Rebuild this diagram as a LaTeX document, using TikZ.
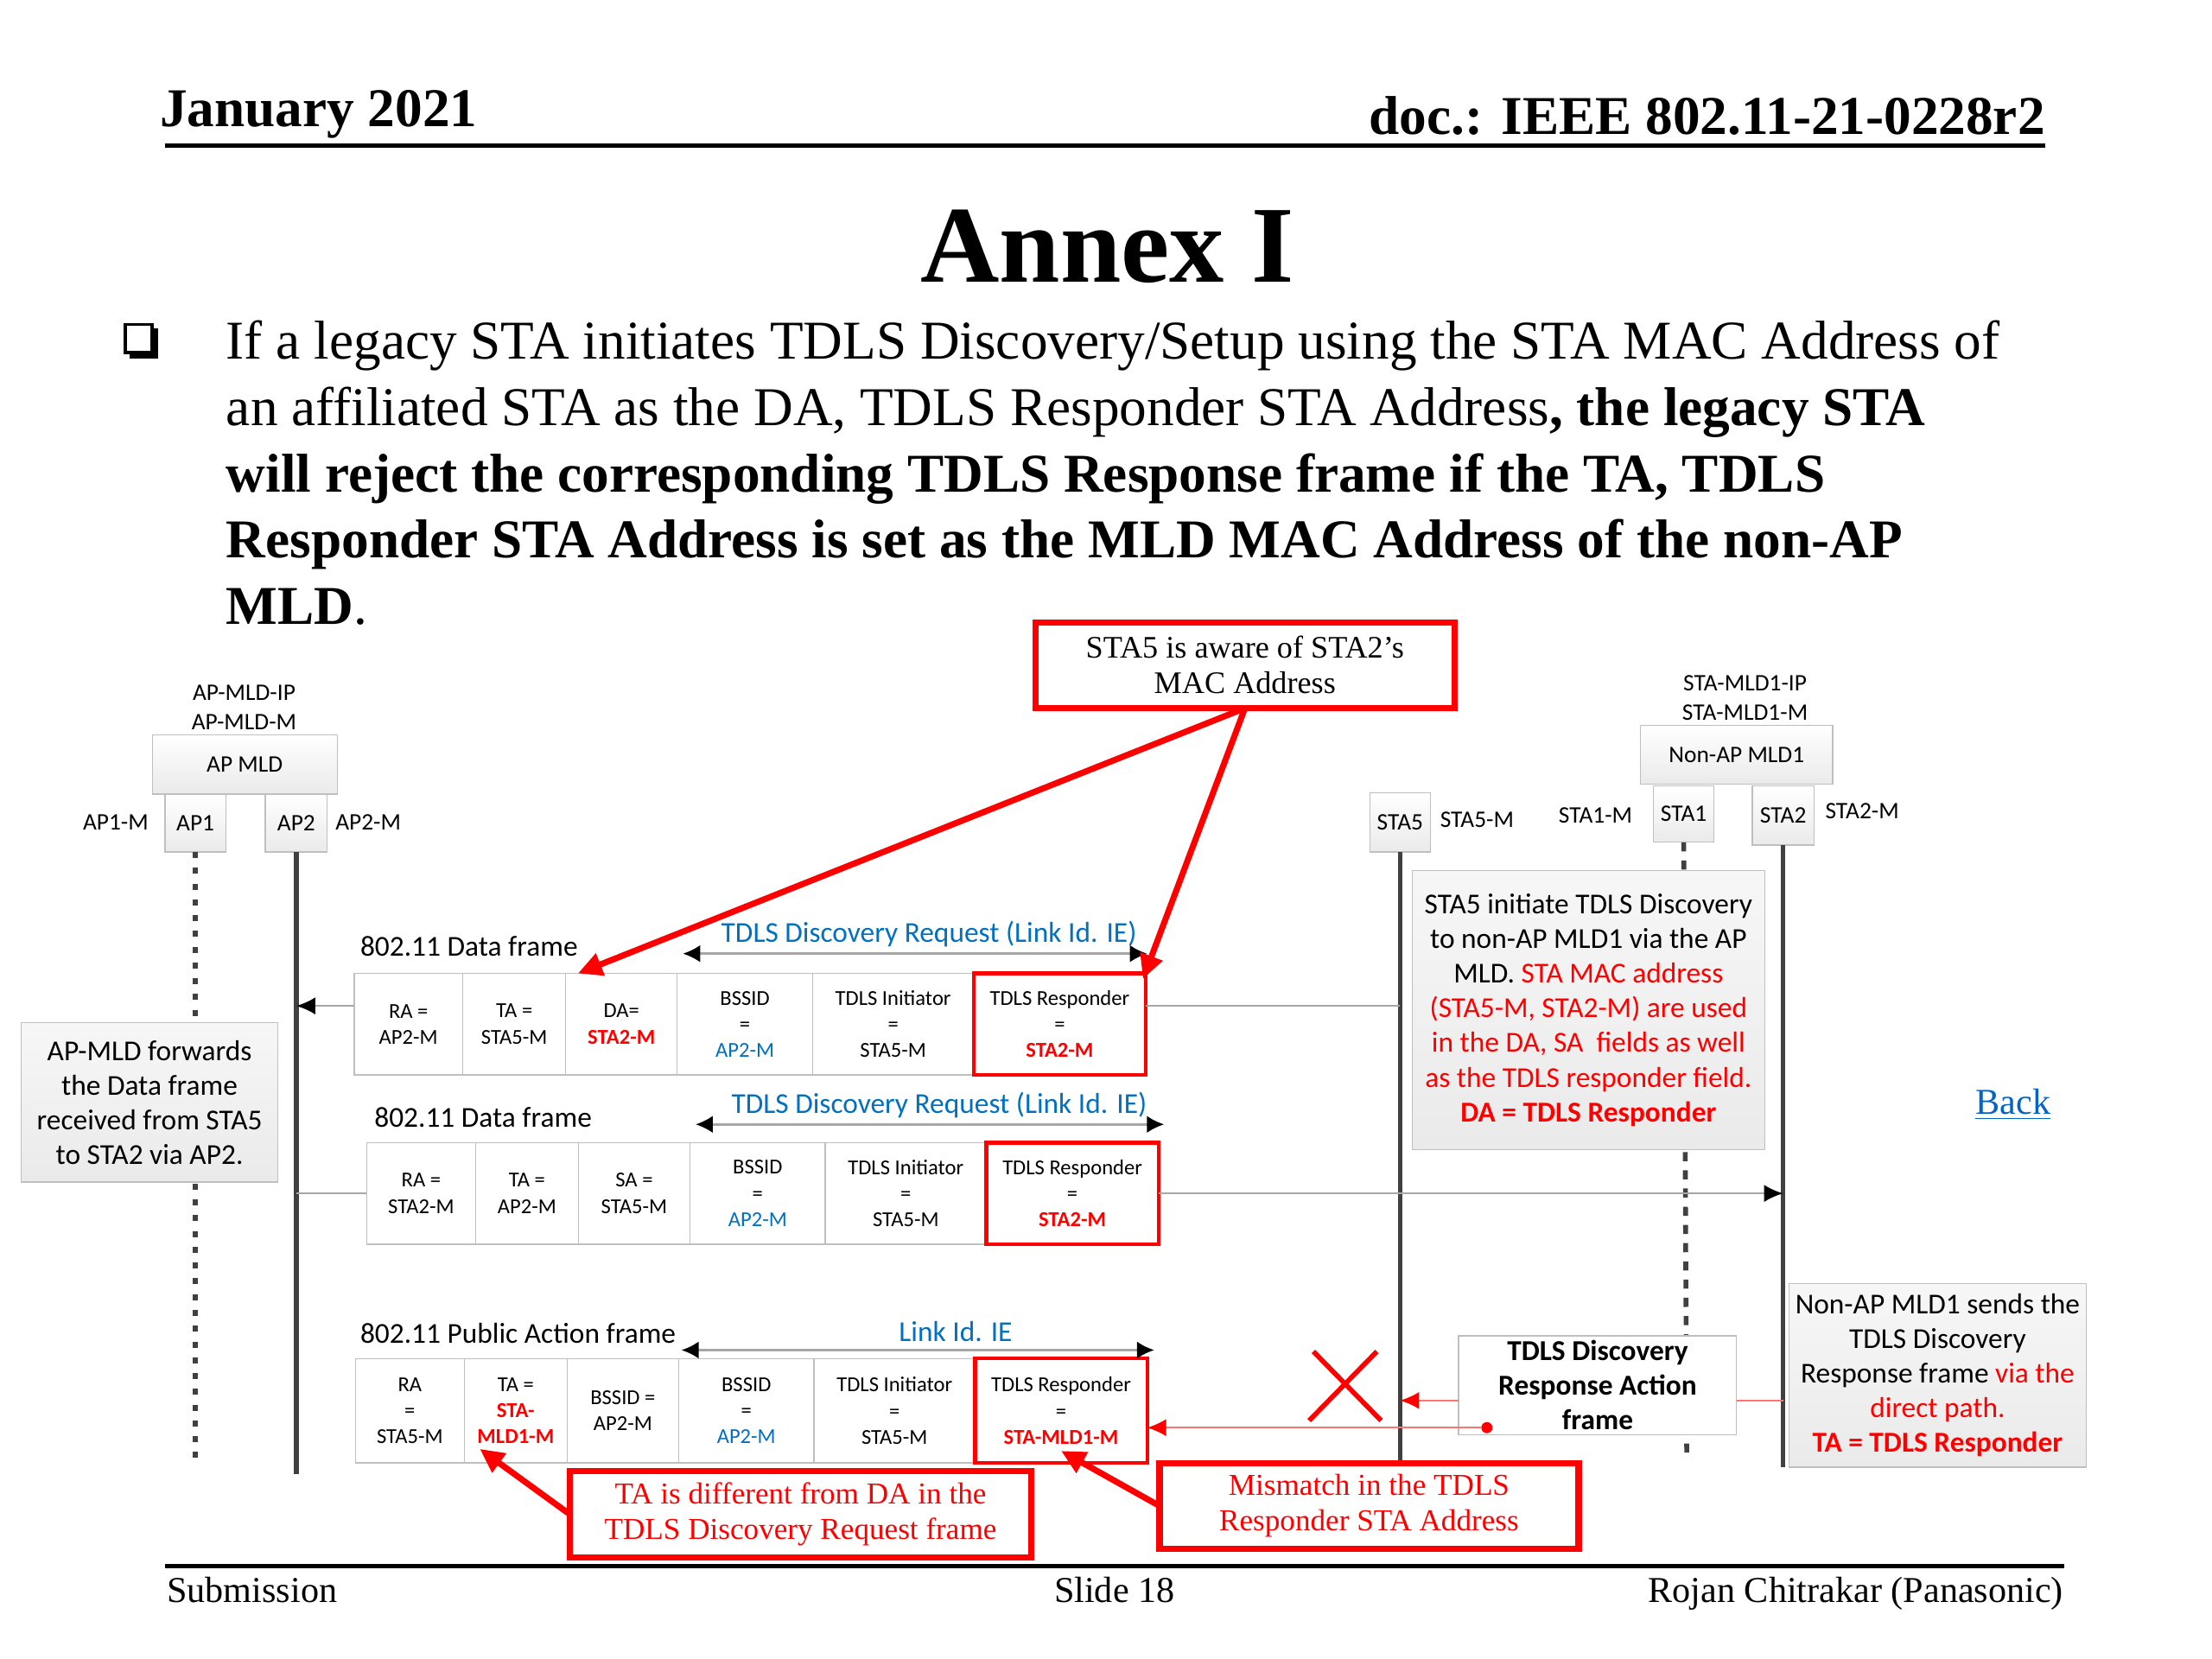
\documentclass[tikz,border=0pt]{standalone}
\usepackage{fontspec}
\setmainfont{Liberation Serif}
\newfontfamily\calibri{Carlito}
\usetikzlibrary{arrows.meta, positioning}
\definecolor{rojoAviso}{HTML}{FF0000}
\definecolor{azulCampo}{HTML}{0070C0}
\definecolor{azulEnlace}{HTML}{0563C1}
\definecolor{grisBorde}{HTML}{BFBFBF}
\definecolor{grisCaja}{HTML}{EAEAEA}
\definecolor{grisLinea}{HTML}{404040}
\definecolor{grisMsg}{HTML}{A6A6A6}

\begin{document}
\begin{tikzpicture}[x=0.016327cm, y=-0.016327cm, >=Latex,
        font=\calibri\fontsize{9.5}{11.4}\selectfont,
        lifebox/.style={draw=grisBorde, top color=white, bottom color=grisCaja,
            font=\calibri\fontsize{7.8}{9.4}\selectfont, inner sep=1pt, outer sep=0pt},
        notebox/.style={draw=grisBorde, top color=grisCaja!40, bottom color=grisCaja,
            align=center, inner sep=2pt, outer sep=0pt},
        cell/.style={draw=grisBorde, fill=white, font=\calibri\fontsize{7}{8.6}\selectfont,
            align=center, inner sep=1pt, outer sep=0pt, minimum height=33.4pt},
        hotcell/.style={cell, draw=rojoAviso, line width=1.2pt},
        redbox/.style={draw=rojoAviso, line width=2pt, fill=white, text=rojoAviso,
            font=\rmfamily\fontsize{10}{11.6}\selectfont, align=center,
            outer sep=0pt, minimum height=28.3pt},
        tag/.style={font=\calibri\fontsize{7.8}{9.4}\selectfont, inner sep=0pt},
        lifeline/.style={grisLinea, line width=1.6pt},
        msg/.style={grisMsg, line width=0.7pt},
        tipmsg/.style={msg, -{Latex[color=black, length=2.2mm, width=2mm]}},
        spanarrow/.style={{Latex[color=black, length=2mm, width=2mm]}-{Latex[color=black, length=2mm, width=2mm]},
            grisMsg, line width=0.8pt},
        pointer/.style={-{Triangle[length=2.8mm, width=2.6mm]}, rojoAviso, line width=2pt},
        redmsg/.style={rojoAviso!55, line width=0.5pt,
            -{Latex[color=rojoAviso, length=2.2mm, width=2mm]}}]
    \useasboundingbox (0,0) rectangle (1568,1176);

    % cabecera
    \node[anchor=base west, inner sep=0pt, font=\rmfamily\bfseries\fontsize{18}{21.6}\selectfont]
        (fecha) at (113,90) {January 2021};
    \node[anchor=base east, inner sep=0pt, font=\rmfamily\bfseries\fontsize{18}{21.6}\selectfont]
        (docid) at (1450,95) {doc.: IEEE 802.11-21-0228r2};
    \draw[line width=1.4pt] (117,103) -- (1450,103);
    \node[anchor=base, inner sep=0pt, font=\rmfamily\bfseries\fontsize{36}{40}\selectfont]
        (titulo) at (785,200) {Annex I};

    % texto
    \draw[line width=1.1pt] (89,230) rectangle (108,250);
    \fill (92,250) rectangle (112,254);
    \fill (108,233) rectangle (112,254);
    \node[anchor=north west, align=left, inner sep=0pt, font=\rmfamily\fontsize{18}{21.8}\selectfont]
        (cuerpo) at (160,227) {If a legacy STA initiates TDLS Discovery/Setup using the STA MAC Address of\\
        an affiliated STA as the DA, TDLS Responder STA Address\textbf{, the legacy STA}\\
        \textbf{will reject the corresponding TDLS Response frame if the TA, TDLS}\\
        \textbf{Responder STA Address is set as the MLD MAC Address of the non-AP}\\
        \textbf{MLD}.};

    % entidades
    \node[lifebox, minimum width=60.9pt, minimum height=19.5pt] (apmld) at (173.5,542) {AP MLD};
    \node[lifebox, minimum width=20pt, minimum height=19pt, anchor=north] (ap1) at (138.5,563) {AP1};
    \node[lifebox, minimum width=20.4pt, minimum height=19pt, anchor=north] (ap2) at (210,563) {AP2};
    \node[tag] (apip) at (173,491) {AP-MLD-IP};
    \node[tag] (apm) at (173,512) {AP-MLD-M};
    \node[tag] (ap1m) at (82,583) {AP1-M};
    \node[tag] (ap2m) at (261,583) {AP2-M};

    \node[lifebox, minimum width=63.2pt, minimum height=19.5pt] (nonap) at (1231,535) {Non-AP MLD1};
    \node[lifebox, minimum width=20pt, minimum height=18.6pt, anchor=north] (sta1) at (1193.5,557) {STA1};
    \node[lifebox, minimum width=20.4pt, minimum height=19.5pt, anchor=north] (sta2) at (1264,557) {STA2};
    \node[lifebox, minimum width=20pt, minimum height=19.5pt] (sta5) at (992.5,583) {STA5};
    \node[tag] (stip) at (1237,484) {STA-MLD1-IP};
    \node[tag] (stm) at (1237,505) {STA-MLD1-M};
    \node[tag] (sta5m) at (1047,581) {STA5-M};
    \node[tag] (sta1m) at (1131,578) {STA1-M};
    \node[tag] (sta2m) at (1320,575) {STA2-M};

    % lineas de vida
    \draw[lifeline, dash pattern=on 2pt off 3.2pt] (ap1.south) -- (ap1.south |- 0,1040);
    \draw[lifeline] (ap2.south) -- (ap2.south |- 0,1045);
    \draw[lifeline] (sta5.south) -- (sta5.south |- 0,1037);
    \draw[lifeline, dash pattern=on 3pt off 3pt] (sta1.south) -- ([xshift=1pt]sta1.south |- 0,1030);
    \draw[lifeline] (sta2.south) -- (sta2.south |- 0,1040);

    % notas
    \node[notebox, minimum width=84.5pt, minimum height=52.5pt] (fwdnote) at (106,781.5)
        {AP-MLD forwards\\the Data frame\\received from STA5\\to STA2 via AP2.};
    \node[notebox, minimum width=116.1pt, minimum height=92pt] (initnote) at (1126,716)
        {STA5 initiate TDLS Discovery\\to non-AP MLD1 via the AP\\MLD. {\color{rojoAviso}STA MAC address}\\
        {\color{rojoAviso}(STA5-M, STA2-M) are used}\\{\color{rojoAviso}in the DA, SA\ \ fields as well}\\
        {\color{rojoAviso}as the TDLS responder field.}\\{\color{rojoAviso}\bfseries DA = TDLS Responder}};
    \node[notebox, minimum width=98pt, minimum height=60.4pt] (sendnote) at (1373.5,975)
        {Non-AP MLD1 sends the\\TDLS Discovery\\Response frame {\color{rojoAviso}via the}\\
        {\color{rojoAviso}direct path.}\\{\color{rojoAviso}\bfseries TA = TDLS Responder}};
    \node[draw=grisBorde, fill=white, align=center, font=\calibri\bfseries\fontsize{9.5}{11.4}\selectfont,
        minimum width=91.5pt, minimum height=32.5pt, inner sep=1pt, outer sep=0pt] (respbox) at (1132.5,982)
        {TDLS Discovery\\Response Action\\frame};

    % trama 1
    \node[anchor=base west, inner sep=0pt] (lbl1) at (255,678) {802.11 Data frame};
    \node[cell, minimum width=35.8pt, anchor=north west] (ra1) at (251,690) {RA =\\AP2-M};
    \node[cell, minimum width=33.9pt, right=0pt of ra1] (ta1) {TA =\\STA5-M};
    \node[cell, minimum width=36.7pt, right=0pt of ta1] (da1) {DA=\\{\color{rojoAviso}\bfseries STA2-M}};
    \node[cell, minimum width=44.6pt, right=0pt of da1] (bssid1) {BSSID\\=\\{\color{azulCampo}AP2-M}};
    \node[cell, minimum width=53pt, right=0pt of bssid1] (ini1) {TDLS Initiator\\=\\STA5-M};
    \node[hotcell, minimum width=56.7pt, right=0pt of ini1] (resp1) {TDLS Responder\\=\\{\color{rojoAviso}\bfseries STA2-M}};
    \draw[spanarrow] ([shift={(4,-14)}]bssid1.north west) -- ([shift={(1,-14)}]resp1.north east)
        node[pos=0.53, above=-1.5pt, text=azulCampo] {TDLS Discovery Request (Link Id. IE)};

    % trama 2
    \node[anchor=base west, inner sep=0pt] (lbl2) at (265,799) {802.11 Data frame};
    \node[cell, minimum width=35.8pt, anchor=north west] (ra2) at (260,810) {RA =\\STA2-M};
    \node[cell, minimum width=33.9pt, right=0pt of ra2] (ta2) {TA =\\AP2-M};
    \node[cell, minimum width=36.7pt, right=0pt of ta2] (sa2) {SA =\\STA5-M};
    \node[cell, minimum width=44.6pt, right=0pt of sa2] (bssid2) {BSSID\\=\\{\color{azulCampo}AP2-M}};
    \node[cell, minimum width=53pt, right=0pt of bssid2] (ini2) {TDLS Initiator\\=\\STA5-M};
    \node[hotcell, minimum width=56.7pt, right=0pt of ini2] (resp2) {TDLS Responder\\=\\{\color{rojoAviso}\bfseries STA2-M}};
    \draw[spanarrow] ([shift={(4,-13)}]bssid2.north west) -- ([shift={(4,-13)}]resp2.north east)
        node[pos=0.52, above=-1.5pt, text=azulCampo] {TDLS Discovery Request (Link Id. IE)};

    % trama 3
    \node[anchor=base west, inner sep=0pt] (lbl3) at (255,952) {802.11 Public Action frame};
    \node[cell, minimum height=34.4pt, minimum width=35.8pt, anchor=north west] (ra3) at (252,963) {RA\\=\\STA5-M};
    \node[cell, minimum height=34.4pt, minimum width=33.9pt, right=0pt of ra3] (ta3)
        {TA =\\{\color{rojoAviso}\bfseries STA-}\\{\color{rojoAviso}\bfseries MLD1-M}};
    \node[cell, minimum height=34.4pt, minimum width=36.7pt, right=0pt of ta3] (bss3) {BSSID =\\AP2-M};
    \node[cell, minimum height=34.4pt, minimum width=44.6pt, right=0pt of bss3] (bssid3) {BSSID\\=\\{\color{azulCampo}AP2-M}};
    \node[cell, minimum height=34.4pt, minimum width=53pt, right=0pt of bssid3] (ini3) {TDLS Initiator\\=\\STA5-M};
    \node[hotcell, minimum height=34.4pt, minimum width=56.7pt, right=0pt of ini3] (resp3)
        {TDLS Responder\\=\\{\color{rojoAviso}\bfseries STA-MLD1-M}};
    \draw[spanarrow] ([shift={(2,-6)}]bssid3.north west) -- ([shift={(5,-6)}]resp3.north east)
        node[pos=0.58, above=-1pt, text=azulCampo] {Link Id. IE};

    % mensajes
    \coordinate (in1) at ([yshift=6pt]ra1.west);
    \draw[tipmsg] (in1) -- (ap2.south |- in1);
    \draw[msg] (resp1.east |- in1) -- (sta5.south |- in1);
    \draw[msg] (ap2.south |- ra2.west) -- (ra2.west);
    \draw[tipmsg] (resp2.east) -- (sta2.south |- resp2.east);
    \coordinate (rrE) at ([yshift=-5pt]respbox.east);
    \coordinate (rrW) at ([yshift=-5pt]respbox.west);
    \draw[rojoAviso!55, line width=0.5pt] (sta2.south |- rrE) -- (rrE);
    \draw[redmsg] (rrW) -- (sta5.south |- rrW);
    \node[circle, fill=rojoAviso, inner sep=1.3pt] (punto) at (1054,1012) {};
    \draw[redmsg] (punto) -- (resp3.east |- punto);
    \draw[rojoAviso, line width=1.6pt] (931,958) -- (979,1007) (976,958) -- (928,1007);

    % avisos
    \node[redbox, text=black, font=\rmfamily\fontsize{10.3}{11.6}\selectfont, minimum width=138pt]
        (aware) at (882.5,471.5) {STA5 is aware of STA2’s\\MAC Address};
    \node[redbox, minimum width=151.9pt] (tadiff) at (567.5,1073.5) {TA is different from DA in the\\TDLS Discovery Request frame};
    \node[redbox, minimum width=138pt] (mismatch) at (970.5,1067.5) {Mismatch in the TDLS\\Responder STA Address};
    \draw[pointer] (aware.south) -- ([xshift=4pt]da1.north west);
    \draw[pointer] (aware.south) -- ([shift={(-2,4)}]resp1.north east);
    \draw[pointer] (tadiff.west) -- ([shift={(11,-10)}]ta3.south west);
    \draw[pointer] (mismatch.west) -- ([yshift=4pt]resp3.south);

    \node[text=azulEnlace, font=\rmfamily\fontsize{12}{14}\selectfont] (volver) at (1427,783) {\underline{Back}};

    % pie
    \draw[line width=1.4pt] (117,1110) -- (1463,1110);
    \node[anchor=base west, inner sep=0pt, font=\rmfamily\fontsize{12}{14}\selectfont] (envio) at (118,1136) {Submission};
    \node[anchor=base, inner sep=0pt, font=\rmfamily\fontsize{12}{14}\selectfont] (diapo) at (790,1136) {Slide 18};
    \node[anchor=base east, inner sep=0pt, font=\rmfamily\fontsize{12}{14}\selectfont] (autor) at (1463,1136) {Rojan Chitrakar (Panasonic)};
\end{tikzpicture}
\end{document}
